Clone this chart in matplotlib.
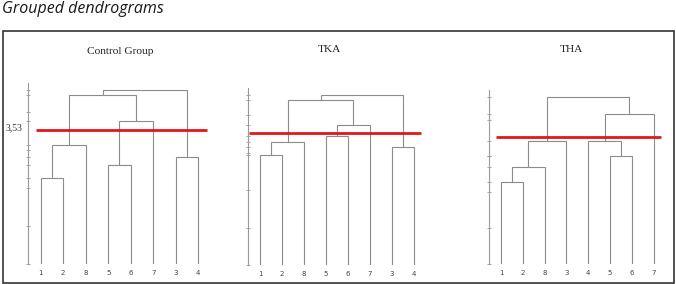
import matplotlib
matplotlib.use('Agg')
import matplotlib.pyplot as plt
from matplotlib.patches import Rectangle

# dendrogram data: leaf order, merges (child a, child b, height)
# a child given as a string is a leaf, an int refers to an earlier merge
control_leaves = ['1', '2', '8', '5', '6', '7', '3', '4']
control_merges = [('1', '2', 2.27), (0, '8', 3.12), ('5', '6', 2.61), (2, '7', 3.75),
                  ('3', '4', 2.81), (1, 3, 4.44), (5, 4, 4.57)]

tka_leaves = ['1', '2', '8', '5', '6', '7', '3', '4']
tka_merges = [('1', '2', 2.93), (0, '8', 3.27), ('5', '6', 3.43), (2, '7', 3.74),
              ('3', '4', 3.15), (1, 3, 4.40), (5, 4, 4.53)]

tha_leaves = ['1', '2', '8', '3', '4', '5', '6', '7']
tha_merges = [('1', '2', 2.26), (0, '8', 2.69), (1, '3', 3.42), ('5', '6', 2.98),
              ('4', 3, 3.42), (4, '7', 4.15), (2, 5, 4.63)]

titles = ['Control Group', 'TKA', 'THA']
cut_height = 3.53
cut_label = '3,53'
base_ticks = [0, 1, 2, 3, 4]

# layout in pixels: axis x, first leaf x, leaf spacing, axis top y, base y, px per unit, red span
layout = [
    (28, 40.7, 22.5, 83, 264.3, 38.1, (-0.2, 7.4)),
    (247.7, 260, 22.0, 87.7, 265, 37.5, (-0.5, 7.3)),
    (489, 501, 21.8, 90, 264, 36.1, (-0.25, 7.35)),
]
title_pos = [(120.7, 52), (329, 50), (571.3, 49.5)]

W, H = 676, 284
fig = plt.figure(figsize=(W / 100, H / 100), dpi=100)

fig.text(2 / W, 1 - 9 / H, 'Grouped dendrograms', style='italic', family='Open Sans',
         fontsize=11.5, va='center', ha='left', color='#1a1a1a')
fig.patches.append(Rectangle((3 / W, 1 - 283 / H), 671 / W, 252 / H, transform=fig.transFigure,
                             fill=False, edgecolor='#333333', lw=1.2))

line_col = '#8c8c8c'
panels = [(control_leaves, control_merges), (tka_leaves, tka_merges), (tha_leaves, tha_merges)]

for i, (leaves, merges) in enumerate(panels):
    ax_x, leaf0, sp, top, base, px_per_unit, span = layout[i]
    right = leaf0 + 7.6 * sp
    ax = fig.add_axes([ax_x / W, 1 - base / H, (right - ax_x) / W, (base - top) / H])
    ax.set_xlim(-(leaf0 - ax_x) / sp, (right - leaf0) / sp)
    ax.set_ylim(0, (base - top) / px_per_unit)

    pos = {lab: (k, 0.0) for k, lab in enumerate(leaves)}
    nodes = []
    for a, b, h in merges:
        pa = nodes[a] if isinstance(a, int) else pos[a]
        pb = nodes[b] if isinstance(b, int) else pos[b]
        ax.plot([pa[0], pa[0], pb[0], pb[0]], [pa[1], h, h, pb[1]], color=line_col, lw=0.8,
                solid_joinstyle='miter')
        nodes.append(((pa[0] + pb[0]) / 2, h))

    ax.hlines(cut_height, span[0], span[1], color='#e3161c', lw=2.0, zorder=5)

    for s in ['top', 'right', 'bottom']:
        ax.spines[s].set_visible(False)
    ax.spines['left'].set_color('#999999')
    ax.spines['left'].set_linewidth(0.8)
    ax.set_yticks(sorted(set(base_ticks + [m[2] for m in merges])))
    ax.tick_params(axis='y', direction='inout', length=3, width=0.6, color='#999999',
                   labelleft=False)
    ax.set_xticks(range(len(leaves)))
    ax.set_xticklabels(leaves, fontsize=5, color='#444444')
    ax.tick_params(axis='x', length=0, pad=4)
    ax.patch.set_visible(False)

    if i == 0:
        ax.annotate(cut_label, (ax.get_xlim()[0], cut_height), xytext=(-4.3, 1.5),
                    textcoords='offset points', ha='right', va='center',
                    family='Liberation Serif', fontsize=7, color='#333333', annotation_clip=False)

    tx, ty = title_pos[i]
    fig.text(tx / W, 1 - ty / H, titles[i], family='Liberation Serif', fontsize=8.2,
             ha='center', va='center', color='#222222')

fig.savefig('out.png', dpi=100)
